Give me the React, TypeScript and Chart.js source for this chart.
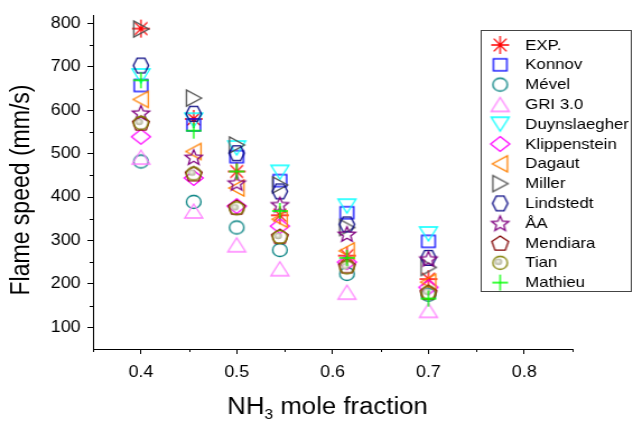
import React, { useEffect, useRef } from 'react';
import { Chart, registerables } from 'chart.js';

Chart.register(...registerables);

// ---------- data ----------
const xValues = [0.4, 0.455, 0.5, 0.545, 0.615, 0.7];

const expValues = [788, 580, 459, 358, 265, 211];
const konnovValues = [657, 566, 493, 438, 364, 298];
const mevelValues = [482, 389, 330, 278, 223, 175];
const gri30Values = [492, 368, 290, 235, 181, 139];
const duynslaegherValues = [679, 577, 513, 457, 379, 315];
const klippensteinValues = [539, 444, 379, 333, 250, 192];
const dagautValues = [625, 505, 421, 349, 276, 204];
const millerValues = [787, 628, 520, 428, 330, 238];
const lindstedtValues = [703, 592, 501, 413, 337, 260];
const aaValues = [594, 492, 433, 383, 315, 258];
const mendiaraValues = [571, 454, 377, 310, 242, 181];
const tianValues = [571, 454, 374, 308, 238, 180];
const mathieuValues = [669, 553, 459, 368, 260, 166];

const seriesNames = ['EXP.', 'Konnov', 'Mével', 'GRI 3.0', 'Duynslaegher', 'Klippenstein', 'Dagaut', 'Miller', 'Lindstedt', 'ÅA', 'Mendiara', 'Tian', 'Mathieu'];
const seriesValues = [expValues, konnovValues, mevelValues, gri30Values, duynslaegherValues, klippensteinValues, dagautValues, millerValues, lindstedtValues, aaValues, mendiaraValues, tianValues, mathieuValues];
const seriesColors = ['#ff0000', '#0000ff', '#008080', '#ff80ff', '#00ffff', '#ff00ff', '#ff8000', '#505050', '#000080', '#800080', '#800000', '#808000', '#00ff00'];
const seriesMarkers = ['asterisk', 'square', 'circle', 'triUp', 'triDown', 'diamond', 'triLeft', 'triRight', 'hexagon', 'star5', 'pentagon', 'sphere', 'plus'];

const xTickValues = [0.4, 0.5, 0.6, 0.7, 0.8];
const xMinorTickValues = [0.35, 0.45, 0.55, 0.65, 0.75, 0.85];
const yTickValues = [100, 200, 300, 400, 500, 600, 700, 800];
const yMinorTickValues = [150, 250, 350, 450, 550, 650, 750];

const yTitle = 'Flame speed (mm/s)';
const xTitleMain = 'NH';
const xTitleSub = '3';
const xTitleRest = ' mole fraction';

// ---------- layout (logical canvas is stretched horizontally) ----------
const STRETCH = 1.12;
const OUT_W = 633;
const OUT_H = 421;
const W = Math.round(OUT_W / STRETCH);
const H = OUT_H;
const FONT = '"Liberation Sans", Arial, Helvetica, sans-serif';

function makeMarker(kind: string, color: string): HTMLCanvasElement {
  const c = document.createElement('canvas');
  c.width = 24;
  c.height = 24;
  const g = c.getContext('2d')!;
  g.translate(12, 12);
  g.strokeStyle = color;
  g.lineWidth = 1.3;
  g.lineJoin = 'miter';
  const poly = (pts: number[][]) => {
    g.beginPath();
    pts.forEach(([x, y], i) => (i ? g.lineTo(x, y) : g.moveTo(x, y)));
    g.closePath();
    g.stroke();
  };
  switch (kind) {
    case 'asterisk': {
      g.beginPath();
      for (let k = 0; k < 4; k++) {
        const a = (k * Math.PI) / 4;
        const dx = Math.cos(a) * 8;
        const dy = Math.sin(a) * 9;
        g.moveTo(-dx, -dy);
        g.lineTo(dx, dy);
      }
      g.stroke();
      break;
    }
    case 'square':
      g.strokeRect(-6, -6, 12, 12);
      break;
    case 'circle':
      g.beginPath();
      g.arc(0, 0, 6.5, 0, Math.PI * 2);
      g.stroke();
      break;
    case 'triUp':
      poly([[0, -7], [8, 7], [-8, 7]]);
      break;
    case 'triDown':
      poly([[0, 7], [8, -7], [-8, -7]]);
      break;
    case 'diamond':
      poly([[0, -7.5], [8.5, 0], [0, 7.5], [-8.5, 0]]);
      break;
    case 'triLeft':
      poly([[-7, 0], [6.5, -8], [6.5, 8]]);
      break;
    case 'triRight':
      poly([[7, 0], [-6.5, -8], [-6.5, 8]]);
      break;
    case 'hexagon': {
      const pts: number[][] = [];
      for (let k = 0; k < 6; k++) {
        const a = (k * Math.PI) / 3;
        pts.push([Math.cos(a) * 6.8, Math.sin(a) * 8.6]);
      }
      poly(pts);
      break;
    }
    case 'star5': {
      const pts: number[][] = [];
      for (let k = 0; k < 10; k++) {
        const a = -Math.PI / 2 + (k * Math.PI) / 5;
        const r = k % 2 === 0 ? 8 : 3.5;
        pts.push([Math.cos(a) * r, Math.sin(a) * r + 0.8]);
      }
      poly(pts);
      break;
    }
    case 'pentagon': {
      const pts: number[][] = [];
      for (let k = 0; k < 5; k++) {
        const a = -Math.PI / 2 + (k * 2 * Math.PI) / 5;
        pts.push([Math.cos(a) * 7.8, Math.sin(a) * 7.8 + 0.8]);
      }
      poly(pts);
      break;
    }
    case 'sphere': {
      const grad = g.createRadialGradient(-2, -1.5, 0.5, -1.5, -1, 3.5);
      grad.addColorStop(0, '#f0f0e6');
      grad.addColorStop(1, '#a8a890');
      g.fillStyle = grad;
      g.beginPath();
      g.arc(-1.5, -1, 3.3, 0, Math.PI * 2);
      g.fill();
      g.beginPath();
      g.arc(0, 0, 6.5, 0, Math.PI * 2);
      g.stroke();
      break;
    }
    case 'plus':
      g.beginPath();
      g.moveTo(-7, 0);
      g.lineTo(7, 0);
      g.moveTo(0, -8);
      g.lineTo(0, 8);
      g.stroke();
      break;
  }
  return c;
}

export default function App() {
  const ref = useRef<HTMLCanvasElement | null>(null);

  useEffect(() => {
    const canvas = ref.current;
    if (!canvas) return;
    const markers = seriesMarkers.map((m, i) => makeMarker(m, seriesColors[i]));
    const n = seriesNames.length;

    const datasets = seriesNames.map((name, i) => ({
      label: name,
      data: xValues.map((x, j) => ({ x, y: seriesValues[i][j] })),
      pointStyle: markers[i] as any,
      pointRadius: 8,
      pointHoverRadius: 8,
      showLine: false,
      order: n - i,
    }));

    const decor = {
      id: 'decor',
      afterDraw(chart: any) {
        const ctx: CanvasRenderingContext2D = chart.ctx;
        const xs = chart.scales.x;
        const ys = chart.scales.y;
        const area = chart.chartArea;
        ctx.save();
        // minor ticks
        ctx.strokeStyle = '#000';
        ctx.lineWidth = 1;
        ctx.beginPath();
        xMinorTickValues.forEach((v) => {
          const px = Math.round(xs.getPixelForValue(v)) + 0.5;
          ctx.moveTo(px, area.bottom);
          ctx.lineTo(px, area.bottom + 3);
        });
        yMinorTickValues.forEach((v) => {
          const py = Math.round(ys.getPixelForValue(v)) + 0.5;
          ctx.moveTo(area.left, py);
          ctx.lineTo(area.left - 3, py);
        });
        ctx.stroke();

        // y title
        ctx.fillStyle = '#000';
        ctx.save();
        ctx.translate(19.6, 190);
        ctx.rotate(-Math.PI / 2);
        ctx.font = `23px ${FONT}`;
        ctx.textAlign = 'center';
        ctx.textBaseline = 'middle';
        ctx.fillText(yTitle, 0, 0);
        ctx.restore();

        // x title with subscript
        ctx.textBaseline = 'alphabetic';
        ctx.textAlign = 'left';
        const bigFont = `23px ${FONT}`;
        const smallFont = `14px ${FONT}`;
        ctx.font = bigFont;
        const w1 = ctx.measureText(xTitleMain).width;
        const w3 = ctx.measureText(xTitleRest).width;
        ctx.font = smallFont;
        const w2 = ctx.measureText(xTitleSub).width;
        const total = w1 + w2 + w3;
        const cx = (area.left + area.right) / 2 - 4.5;
        let tx = cx - total / 2;
        const baseY = 414;
        ctx.font = bigFont;
        ctx.fillText(xTitleMain, tx, baseY);
        tx += w1;
        ctx.font = smallFont;
        ctx.fillText(xTitleSub, tx, baseY + 5);
        tx += w2;
        ctx.font = bigFont;
        ctx.fillText(xTitleRest, tx, baseY);

        // legend
        const lx = 428.6;
        const ly = 30;
        const lw = 563.4 - lx;
        const lh = 292 - ly;
        ctx.fillStyle = '#fff';
        ctx.fillRect(lx, ly, lw, lh);
        ctx.strokeStyle = '#444';
        ctx.lineWidth = 1;
        ctx.strokeRect(Math.round(lx) + 0.5, ly + 0.5, Math.round(lw) - 1, lh - 1);
        ctx.font = `15px ${FONT}`;
        ctx.textBaseline = 'middle';
        ctx.fillStyle = '#000';
        seriesNames.forEach((name, i) => {
          const cy = 45 + i * 19.8;
          const mk = markers[i];
          ctx.drawImage(mk, 446.4 - mk.width / 2, cy - mk.height / 2);
          ctx.fillText(name, 468.8, cy + 0.5);
        });
        ctx.restore();
      },
    };

    const chart = new Chart(canvas, {
      type: 'scatter',
      data: { datasets: datasets as any },
      options: {
        animation: false,
        responsive: false,
        devicePixelRatio: 1,
        events: [],
        layout: { padding: { left: 0, top: 13, right: W - 510.7, bottom: 0 } },
        plugins: {
          legend: { display: false },
          tooltip: { enabled: false },
          title: { display: false },
        },
        scales: {
          x: {
            type: 'linear',
            min: 0.35,
            max: 0.85,
            afterBuildTicks: (s: any) => {
              s.ticks = xTickValues.map((v) => ({ value: v }));
            },
            afterFit: (s: any) => {
              s.height = H - 349;
            },
            grid: { display: true, drawOnChartArea: false, drawTicks: true, tickLength: 5, tickColor: '#000', tickWidth: 1 },
            border: { display: true, color: '#000', width: 1 },
            ticks: {
              color: '#000',
              font: { family: FONT, size: 16 },
              padding: 9,
              maxRotation: 0,
              autoSkip: false,
              callback: (v: any) => Number(v).toFixed(1),
            },
            title: { display: false },
          },
          y: {
            type: 'linear',
            min: 50,
            max: 818,
            afterBuildTicks: (s: any) => {
              s.ticks = yTickValues.map((v) => ({ value: v }));
            },
            afterFit: (s: any) => {
              s.width = 83;
            },
            grid: { display: true, drawOnChartArea: false, drawTicks: true, tickLength: 5, tickColor: '#000', tickWidth: 1 },
            border: { display: true, color: '#000', width: 1 },
            ticks: {
              color: '#000',
              font: { family: FONT, size: 16 },
              padding: 6,
              autoSkip: false,
              callback: (v: any) => String(v),
            },
            title: { display: false },
          },
        },
      },
      plugins: [decor],
    } as any);

    return () => chart.destroy();
  }, []);

  return (
    <div style={{ position: 'fixed', left: 0, top: 0, width: OUT_W, height: OUT_H, background: '#fff' }}>
      <canvas
        ref={ref}
        width={W}
        height={H}
        style={{ width: `${OUT_W}px`, height: `${OUT_H}px`, display: 'block' }}
      />
    </div>
  );
}
